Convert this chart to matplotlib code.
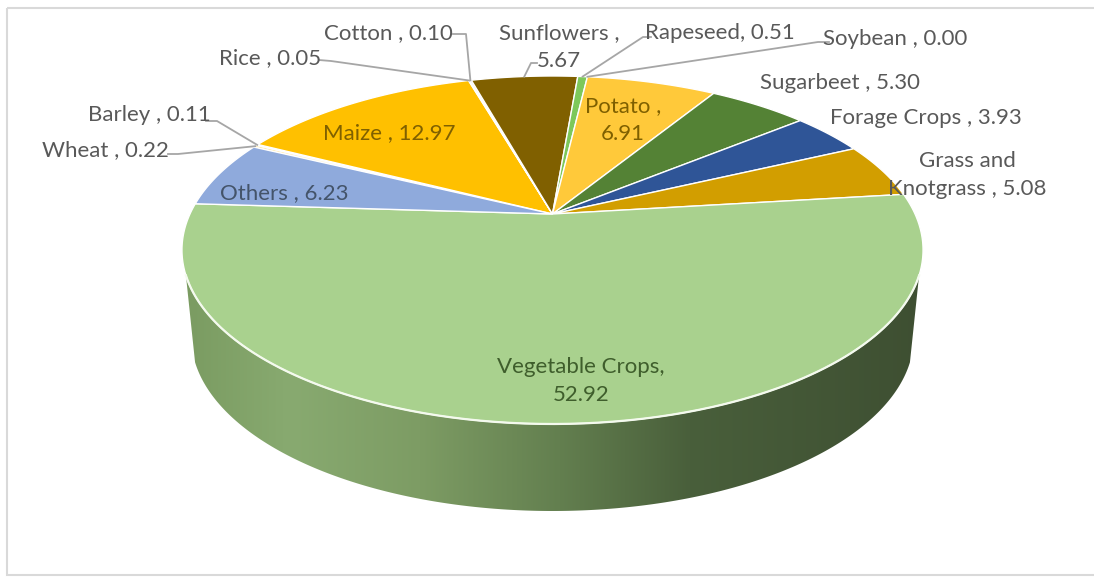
import numpy as np
import matplotlib.pyplot as plt
from matplotlib.patches import Polygon, Rectangle
from matplotlib.colors import to_rgb

# crop shares (%) in the order they go round the pie, clockwise
crops = ["Wheat", "Barley", "Maize", "Rice", "Cotton", "Sunflowers", "Rapeseed",
         "Soybean", "Potato", "Sugarbeet", "Forage Crops", "Grass and\nKnotgrass",
         "Vegetable Crops", "Others"]
shares = [0.22, 0.11, 12.97, 0.05, 0.10, 5.67, 0.51, 0.00, 6.91, 5.30, 3.93, 5.08, 52.92, 6.23]
seps = [" , ", " , ", " , ", " , ", " , ", " ,\n", ", ", " , ", " ,\n", " , ", " , ", " , ", ",\n", " , "]

colors = ["#FFE699", "#BDD7EE", "#FFC000", "#F4B183", "#D9D9D9", "#806000", "#7DC85A",
          "#A5A5A5", "#FFC93A", "#548235", "#2F5597", "#D29E00", "#A9D18E", "#8FAADC"]
text_colors = {"Maize": "#7F6000", "Others": "#44546A", "Potato": "#7F6000",
               "Vegetable Crops": "#3F5E2C"}

# label centres (px) and leader start points for the thin slices
label_pos = {"Wheat": (105, 150), "Barley": (149, 115), "Maize": (389, 133), "Rice": (270, 58),
             "Cotton": (388, 33), "Sunflowers": (559, 47), "Rapeseed": (720, 33),
             "Soybean": (895, 39), "Potato": (623, 120), "Sugarbeet": (840, 83),
             "Forage Crops": (926, 118), "Grass and\nKnotgrass": (967, 175),
             "Vegetable Crops": (581, 381), "Others": (284, 193)}
leaders = {"Wheat": [(168, 154), (178, 154)], "Barley": [(206, 121), (217, 121)],
           "Rice": [(319, 60), (331, 61)], "Cotton": [(453, 34), (466, 34)],
           "Sunflowers": [(537, 63), (531, 63)], "Rapeseed": [(651, 37), (643, 37)],
           "Soybean": [(829, 42), (818, 42)]}

# 3d view of the pie
START = 296.0
PHI = np.radians(27.35)
S, C = np.sin(PHI), np.cos(PHI)
DIST, FOC = 4.294, 1556.7
CX, CY = 552.5, 214.0
WALL, SHRINK = 87.0, 0.975
FRONT = (110, 250)   # part of the rim whose wall can be seen


def project(ang, r=1.0):
    a = np.radians(ang)
    x = r * np.sin(a)
    y = r * np.cos(a)
    d = C * y + DIST
    return CX + FOC * x / d, CY - FOC * S * y / d


fig = plt.figure(figsize=(10.94, 5.78), dpi=100)
ax = fig.add_axes([0, 0, 1, 1])
ax.axis("off")

# side wall: front rim pushed down and pulled in a little
front = np.linspace(FRONT[0], FRONT[1], 300)
tx, ty = project(front)
bx = CX + (tx - CX) * SHRINK
by = ty + WALL
side = np.column_stack([np.r_[tx, bx[::-1]], np.r_[ty, by[::-1]]])
side_patch = Polygon(side, closed=True, facecolor="none", edgecolor="none")
ax.add_patch(side_patch)

stops_x = [182, 290, 420, 560, 690, 923]
stops_c = ["#7A9B61", "#88AA70", "#7D9C64", "#637F4F", "#495F3B", "#3E4F32"]
gx = np.linspace(178, 928, 600)
rgb = np.array([to_rgb(c) for c in stops_c])
grad = np.stack([np.interp(gx, stops_x, rgb[:, k]) for k in range(3)], axis=-1)[None, :, :]
im = ax.imshow(grad, extent=(178, 928, 520, 200), aspect="auto", zorder=1)
im.set_clip_path(side_patch)

# top face
cum = 0.0
mids = []
for name, val, col in zip(crops, shares, colors):
    a0 = START + cum * 3.6
    a1 = a0 + val * 3.6
    mids.append((a0 + a1) / 2)
    cum += val
    if val <= 0:
        continue
    arc = np.linspace(a0, a1, max(int(val * 8), 4))
    px, py = project(arc)
    poly = np.column_stack([np.r_[CX, px], np.r_[CY, py]])
    ax.add_patch(Polygon(poly, closed=True, facecolor=col, edgecolor="white",
                         linewidth=1.0, joinstyle="round", zorder=2))

ax.plot(tx, ty, color="#F4FAEE", linewidth=1.6, zorder=3)

# labels
for name, val, sep, mid in zip(crops, shares, seps, mids):
    x, y = label_pos[name]
    ax.text(x, y, f"{name}{sep}{val:.2f}", ha="center", va="center",
            fontsize=16, family=["Lato", "DejaVu Sans"], linespacing=1.45,
            color=text_colors.get(name, "#595959"), zorder=5)
    if name in leaders:
        rx, ry = project(mid)
        pts = leaders[name] + [(rx, ry)]
        ax.plot([p[0] for p in pts], [p[1] for p in pts], color="#A6A6A6",
                linewidth=1.3, zorder=4)

ax.add_patch(Rectangle((7, 8), 1100, 567, facecolor="none", edgecolor="#D9D9D9",
                       linewidth=1.5, zorder=0))

ax.set_xlim(0, 1094)
ax.set_ylim(578, 0)
fig.savefig("out.png", dpi=100, facecolor="white")
